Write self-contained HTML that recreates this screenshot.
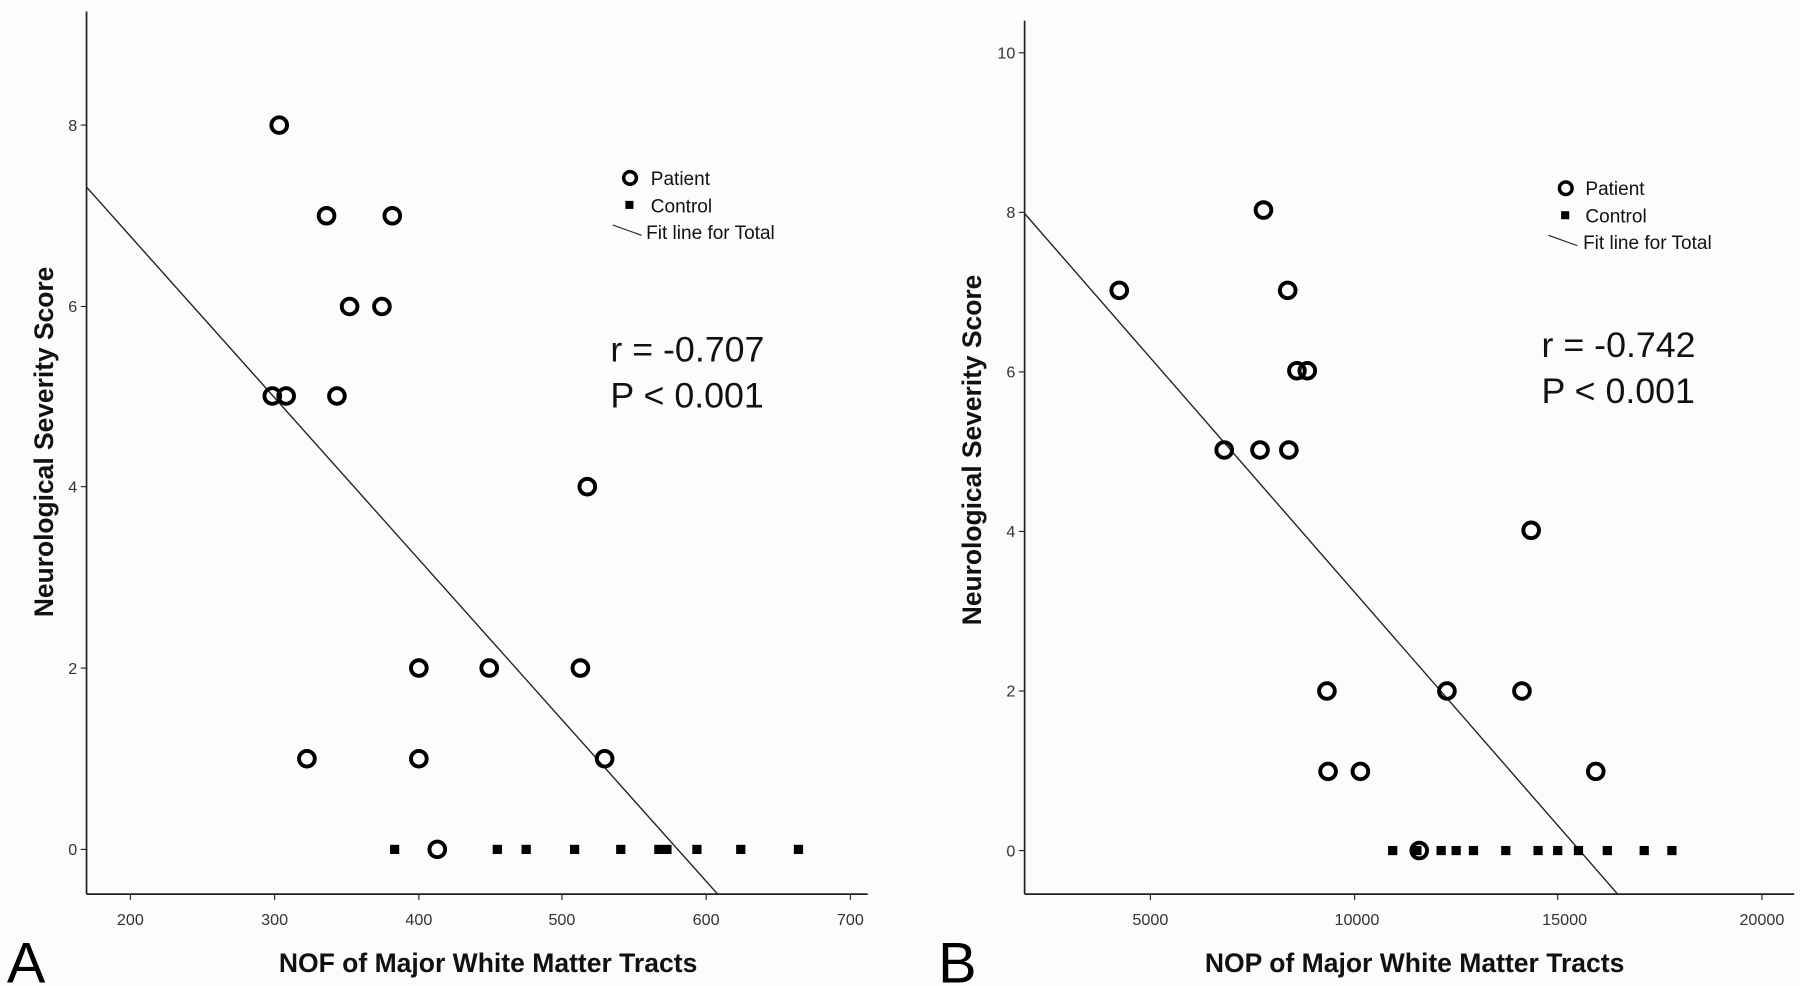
<!DOCTYPE html>
<html><head><style>html,body{margin:0;padding:0;background:#fff;}svg{display:block}</style></head>
<body>
<svg width="1800" height="986" viewBox="0 0 1560 859" preserveAspectRatio="none" xmlns="http://www.w3.org/2000/svg" font-family="Liberation Sans, sans-serif">
<rect width="1560" height="859" fill="#fcfcfc"/>
<!-- Chart A -->
<g stroke="#222" stroke-width="1.5" fill="none">
<line x1="75" y1="10" x2="75" y2="779"/>
<line x1="75" y1="779" x2="752" y2="779"/>
<line x1="75" y1="163" x2="622" y2="779" stroke-width="1.2"/>
</g>
<g stroke="#222" stroke-width="1">
<line x1="70" y1="740" x2="75" y2="740"/><line x1="70" y1="582" x2="75" y2="582"/><line x1="70" y1="424" x2="75" y2="424"/><line x1="70" y1="267" x2="75" y2="267"/><line x1="70" y1="109" x2="75" y2="109"/>
<line x1="113" y1="779" x2="113" y2="784"/><line x1="238" y1="779" x2="238" y2="784"/><line x1="363" y1="779" x2="363" y2="784"/><line x1="487" y1="779" x2="487" y2="784"/><line x1="612" y1="779" x2="612" y2="784"/><line x1="737" y1="779" x2="737" y2="784"/>
</g>
<g font-size="14" fill="#333" text-anchor="end">
<text x="67" y="745">0</text><text x="67" y="587">2</text><text x="67" y="429">4</text><text x="67" y="272">6</text><text x="67" y="114">8</text>
</g>
<g font-size="14" fill="#333" text-anchor="middle">
<text x="113" y="806">200</text><text x="238" y="806">300</text><text x="363" y="806">400</text><text x="487" y="806">500</text><text x="612" y="806">600</text><text x="737" y="806">700</text>
</g>
<g fill="none" stroke="#000" stroke-width="3.4">
<circle cx="242" cy="109" r="6.8"/><circle cx="283" cy="188" r="6.8"/><circle cx="340" cy="188" r="6.8"/><circle cx="303" cy="267" r="6.8"/><circle cx="331" cy="267" r="6.8"/><circle cx="236" cy="345" r="6.8"/><circle cx="248" cy="345" r="6.8"/><circle cx="292" cy="345" r="6.8"/><circle cx="509" cy="424" r="6.8"/><circle cx="363" cy="582" r="6.8"/><circle cx="424" cy="582" r="6.8"/><circle cx="503" cy="582" r="6.8"/><circle cx="266" cy="661" r="6.8"/><circle cx="363" cy="661" r="6.8"/><circle cx="524" cy="661" r="6.8"/><circle cx="379" cy="740" r="6.8"/>
</g>
<g fill="#000">
<rect x="338" y="736" width="8" height="8"/><rect x="427" y="736" width="8" height="8"/><rect x="452" y="736" width="8" height="8"/><rect x="494" y="736" width="8" height="8"/><rect x="534" y="736" width="8" height="8"/><rect x="567" y="736" width="8" height="8"/><rect x="574" y="736" width="8" height="8"/><rect x="600" y="736" width="8" height="8"/><rect x="638" y="736" width="8" height="8"/><rect x="688" y="736" width="8" height="8"/>
</g>
<circle cx="546" cy="155" r="5.5" fill="none" stroke="#000" stroke-width="3"/>
<rect x="542" y="175" width="7" height="7" fill="#000"/>
<line x1="531" y1="196" x2="556" y2="205" stroke="#222" stroke-width="1"/>
<g font-size="16.5" fill="#111"><text x="564" y="161">Patient</text><text x="564" y="185">Control</text><text x="560" y="208">Fit line for Total</text></g>
<g font-size="31" fill="#111"><text x="529" y="315">r = -0.707</text><text x="529" y="355">P &lt; 0.001</text></g>
<text x="423" y="847" font-size="23" font-weight="bold" text-anchor="middle" fill="#111">NOF of Major White Matter Tracts</text>
<text x="46" y="385" font-size="23" font-weight="bold" text-anchor="middle" fill="#111" transform="rotate(-90 46 385)">Neurological Severity Score</text>
<text x="6" y="856" font-size="50" fill="#000">A</text>
<!-- Chart B -->
<g stroke="#222" stroke-width="1.5" fill="none">
<line x1="888" y1="18" x2="888" y2="779"/>
<line x1="888" y1="779" x2="1555" y2="779"/>
<line x1="888" y1="186" x2="1402" y2="779" stroke-width="1.2"/>
</g>
<g stroke="#222" stroke-width="1">
<line x1="883" y1="741" x2="888" y2="741"/><line x1="883" y1="602" x2="888" y2="602"/><line x1="883" y1="463" x2="888" y2="463"/><line x1="883" y1="324" x2="888" y2="324"/><line x1="883" y1="185" x2="888" y2="185"/><line x1="883" y1="46" x2="888" y2="46"/>
<line x1="997" y1="779" x2="997" y2="784"/><line x1="1174" y1="779" x2="1174" y2="784"/><line x1="1350" y1="779" x2="1350" y2="784"/><line x1="1527" y1="779" x2="1527" y2="784"/>
</g>
<g font-size="14" fill="#333" text-anchor="end">
<text x="880" y="746">0</text><text x="880" y="607">2</text><text x="880" y="468">4</text><text x="880" y="329">6</text><text x="880" y="190">8</text><text x="880" y="51">10</text>
</g>
<g font-size="14" fill="#333" text-anchor="middle">
<text x="997" y="806">5000</text><text x="1176" y="806">10000</text><text x="1356" y="806">15000</text><text x="1527" y="806">20000</text>
</g>
<g fill="none" stroke="#000" stroke-width="3.4">
<circle cx="970" cy="253" r="6.8"/><circle cx="1095" cy="183" r="6.8"/><circle cx="1116" cy="253" r="6.8"/><circle cx="1124" cy="323" r="6.8"/><circle cx="1133" cy="323" r="6.8"/><circle cx="1061" cy="392" r="6.8"/><circle cx="1092" cy="392" r="6.8"/><circle cx="1117" cy="392" r="6.8"/><circle cx="1327" cy="462" r="6.8"/><circle cx="1150" cy="602" r="6.8"/><circle cx="1254" cy="602" r="6.8"/><circle cx="1319" cy="602" r="6.8"/><circle cx="1151" cy="672" r="6.8"/><circle cx="1179" cy="672" r="6.8"/><circle cx="1383" cy="672" r="6.8"/><circle cx="1230" cy="741" r="6.8"/>
</g>
<g fill="#000">
<rect x="1203" y="737" width="8" height="8"/><rect x="1224" y="737" width="8" height="8"/><rect x="1245" y="737" width="8" height="8"/><rect x="1258" y="737" width="8" height="8"/><rect x="1273" y="737" width="8" height="8"/><rect x="1301" y="737" width="8" height="8"/><rect x="1329" y="737" width="8" height="8"/><rect x="1346" y="737" width="8" height="8"/><rect x="1364" y="737" width="8" height="8"/><rect x="1389" y="737" width="8" height="8"/><rect x="1421" y="737" width="8" height="8"/><rect x="1445" y="737" width="8" height="8"/>
</g>
<circle cx="1357" cy="164" r="5.5" fill="none" stroke="#000" stroke-width="3"/>
<rect x="1353" y="184" width="7" height="7" fill="#000"/>
<line x1="1342" y1="205" x2="1367" y2="214" stroke="#222" stroke-width="1"/>
<g font-size="16.5" fill="#111"><text x="1374" y="170">Patient</text><text x="1374" y="194">Control</text><text x="1372" y="217">Fit line for Total</text></g>
<g font-size="31" fill="#111"><text x="1336" y="311">r = -0.742</text><text x="1336" y="351">P &lt; 0.001</text></g>
<text x="1226" y="847" font-size="23" font-weight="bold" text-anchor="middle" fill="#111">NOP of Major White Matter Tracts</text>
<text x="850" y="392" font-size="23" font-weight="bold" text-anchor="middle" fill="#111" transform="rotate(-90 850 392)">Neurological Severity Score</text>
<text x="813" y="856" font-size="50" fill="#000">B</text>
</svg>
</body></html>
